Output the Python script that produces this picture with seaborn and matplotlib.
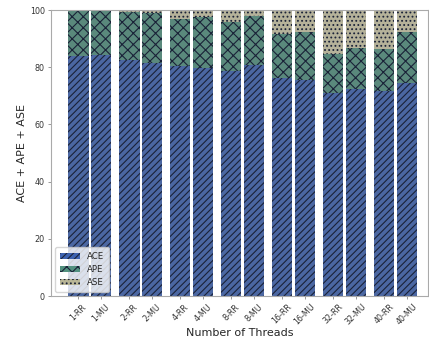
import matplotlib
matplotlib.use("Agg")
import matplotlib.pyplot as plt
import matplotlib.patches as mpatches
import numpy as np
import pandas as pd
import seaborn as sns

threads = ["1", "2", "4", "8", "16", "32", "40"]
policies = ["RR", "MU"]

# per bar, order: 1-RR, 1-MU, 2-RR, 2-MU, ...
ace = [83.9, 84.1, 82.5, 81.4, 80.5, 79.8, 78.7, 80.8, 76.3, 75.5, 71.1, 72.3, 71.7, 74.5]
ape = [15.9, 15.7, 16.9, 17.4, 16.4, 17.6, 17.0, 17.1, 15.4, 16.8, 13.5, 14.5, 14.6, 17.9]
ase = [0.2, 0.2, 0.6, 1.2, 3.1, 2.6, 4.3, 2.1, 8.3, 7.7, 15.4, 13.2, 13.7, 7.6]

layer_names = ["ACE", "APE", "ASE"]
layer_colors = ["#3d62b0", "#52917f", "#b9b696"]
layer_hatches = ["/////", "xxx", "...."]
hatch_color = "#1a2238"

sns.set_style("white")
plt.rcParams["font.family"] = ["DejaVu Sans"]
plt.rcParams["hatch.linewidth"] = 0.8

df = pd.DataFrame({
    "threads": [t for t in threads for _ in policies],
    "policy": [p for _ in threads for p in policies],
    "ACE": ace,
    "APE": ape,
    "ASE": ase,
})
df["lvl_ACE"] = df["ACE"]
df["lvl_APE"] = df["ACE"] + df["APE"]
df["lvl_ASE"] = df["ACE"] + df["APE"] + df["ASE"]

fig = plt.figure(figsize=(4.29, 3.41), dpi=100)
ax = fig.add_axes([51 / 429, 1 - 296 / 341, 377 / 429, 286 / 341])

# draw from the top layer down so each lower layer covers the one above
for name, color, hatch in reversed(list(zip(layer_names, layer_colors, layer_hatches))):
    n_before = len(ax.patches)
    sns.barplot(data=df, x="threads", y="lvl_" + name, hue="policy", order=threads,
                hue_order=policies, palette=[color, color], gap=0.1, width=0.9,
                edgecolor=hatch_color, linewidth=0, legend=False, ax=ax)
    for p in ax.patches[n_before:]:
        p.set_hatch(hatch)

# tick per bar, in bar order
centers = sorted(p.get_x() + p.get_width() / 2 for p in ax.patches[:len(ace)])
labels = [f"{t}-{p}" for t in threads for p in policies]
ax.set_xticks(centers)
ax.set_xticklabels(labels, rotation=45, fontsize=5.8, color="#333333")
ax.tick_params(axis="y", labelsize=5.8, labelcolor="#333333")
ax.tick_params(axis="both", length=2.5, width=0.6, color="#888888", bottom=True, left=True, pad=2)

ax.set_xlim(-0.76, 6.64)
ax.set_ylim(0, 100)
ax.set_xlabel("Number of Threads", fontsize=8, labelpad=1)
ax.set_ylabel("ACE + APE + ASE", fontsize=8, labelpad=2)
for s in ax.spines.values():
    s.set_color("#aaaaaa")
    s.set_linewidth(0.8)

handles = [mpatches.Patch(facecolor=c, hatch=h, edgecolor=hatch_color, linewidth=0, label=n)
           for n, c, h in zip(layer_names, layer_colors, layer_hatches)]
ax.legend(handles=handles, loc="lower left", fontsize=6.2, frameon=True,
          framealpha=0.8, borderpad=0.5, handlelength=2.4)

fig.savefig("out.png", dpi=100)
